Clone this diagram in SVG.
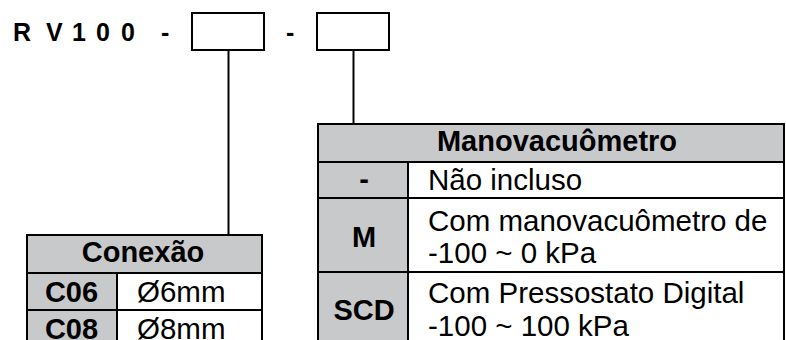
<svg xmlns="http://www.w3.org/2000/svg" width="786" height="340" viewBox="0 0 786 340">
<style>
.box{fill:#fff;stroke:#000;stroke-width:2}
.g{fill:#c8c9cb;stroke:#000;stroke-width:2}
.w{fill:#fff;stroke:#000;stroke-width:2}
.ln{stroke:#000;stroke-width:2;fill:none}
.b{font-family:"Liberation Sans",Arial,sans-serif;font-weight:bold;font-size:29px;fill:#000}
.r{font-family:"Liberation Sans",Arial,sans-serif;font-size:29.5px;fill:#000}
.t{font-family:"Liberation Sans",Arial,sans-serif;font-weight:bold;font-size:25px;fill:#000}
</style>
<rect width="786" height="340" fill="#fff"/>
<g id="code">
<text class="t" y="40.5"><tspan x="13">R</tspan><tspan x="46">V</tspan><tspan x="72">1</tspan><tspan x="96">0</tspan><tspan x="121">0</tspan></text>
<text class="t" x="161" y="40.5">-</text>
<text class="t" x="286" y="40.5">-</text>
</g>
<g id="box1"><rect class="box" x="192" y="13" width="72" height="37"/></g>
<g id="box2"><rect class="box" x="317" y="13" width="72" height="37"/></g>
<g id="connectors">
<line class="ln" x1="228.5" y1="50" x2="228.5" y2="235"/>
<line class="ln" x1="353.5" y1="50" x2="353.5" y2="124"/>
</g>
<g id="conexao">
<rect class="g" x="27" y="235" width="235" height="38"/>
<rect class="g" x="27" y="273" width="90" height="37"/>
<rect class="w" x="117" y="273" width="145" height="37"/>
<rect class="g" x="27" y="310" width="90" height="37"/>
<rect class="w" x="117" y="310" width="145" height="37"/>
<text class="b" x="143" y="262" text-anchor="middle">Conexão</text>
<text class="b" x="71.5" y="302" text-anchor="middle">C06</text>
<text class="r" x="137" y="302">Ø6mm</text>
<text class="b" x="71.5" y="339" text-anchor="middle">C08</text>
<text class="r" x="137" y="339">Ø8mm</text>
</g>
<g id="manovacuometro">
<rect class="g" x="318" y="124" width="466" height="38"/>
<rect class="g" x="318" y="162" width="90" height="36"/>
<rect class="w" x="408" y="162" width="376" height="36"/>
<rect class="g" x="318" y="198" width="90" height="74"/>
<rect class="w" x="408" y="198" width="376" height="74"/>
<rect class="g" x="318" y="272" width="90" height="74"/>
<rect class="w" x="408" y="272" width="376" height="74"/>
<text class="b" x="557" y="151" text-anchor="middle">Manovacuômetro</text>
<text class="b" x="364" y="189" text-anchor="middle">-</text>
<text class="r" x="428" y="190">Não incluso</text>
<text class="b" x="364" y="247" text-anchor="middle">M</text>
<text class="r" x="428" y="231">Com manovacuômetro de</text>
<text class="r" x="428" y="263">-100 ~ 0 kPa</text>
<text class="b" x="364" y="320" text-anchor="middle">SCD</text>
<text class="r" x="428" y="303">Com Pressostato Digital</text>
<text class="r" x="428" y="336">-100 ~ 100 kPa</text>
</g>
</svg>
